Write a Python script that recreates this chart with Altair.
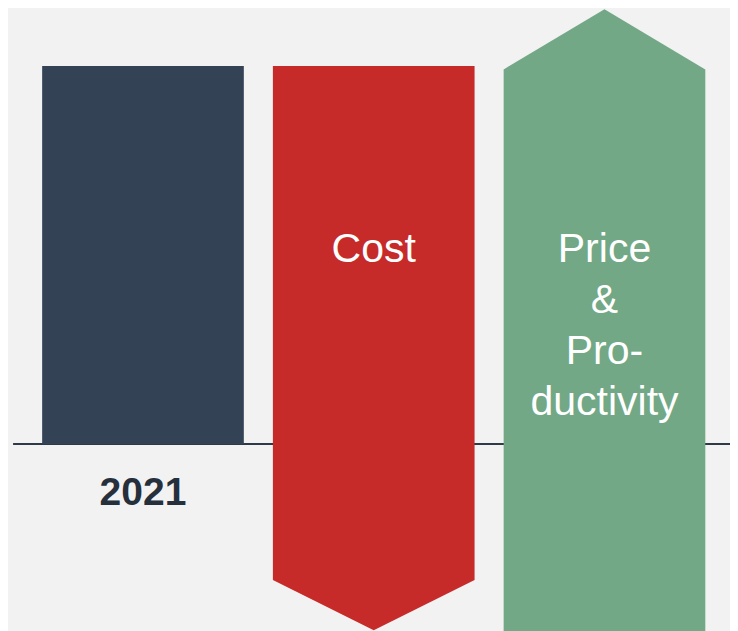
import altair as alt
import pandas as pd

# ---- data ----
categories = ["2021", "Cost", "Price & Productivity"]
inner_labels = ["", "Cost", "Price\n&\nPro-\nductivity"]
axis_labels = ["2021", "", ""]
bar_start = [0, 100, -60]        # where each bar/arrow begins
bar_edge = [100, -36, 99.1]      # end of the straight body
bar_tip = [100, -49.3, 115]      # tip of the arrow head
colors = ["#334355", "#c62a29", "#72a886"]

HALF = 0.437
X_DOMAIN = [-0.585, 2.544]
Y_DOMAIN = [-49.47, 115.34]

rows = []
for i, c in enumerate(categories):
    for dx, top in ((-HALF, bar_edge[i]), (0, bar_tip[i]), (HALF, bar_edge[i])):
        rows.append({"cat": c, "px": i + dx, "lo": bar_start[i], "hi": top})
poly = pd.DataFrame(rows)

labels = pd.DataFrame({
    "cat": categories,
    "px": list(range(len(categories))),
    "inner": inner_labels,
    "axis": axis_labels,
    "ly": [48.1] * 3,
    "ay": [-16.1] * 3,
})

xs = alt.Scale(domain=X_DOMAIN, nice=False, zero=False)
ys = alt.Scale(domain=Y_DOMAIN, nice=False, zero=False)

base_line = alt.Chart(pd.DataFrame({"px": [-0.563], "px2": [X_DOMAIN[1]], "lo": [0]})).mark_rule(
    color="#2e3a47", strokeWidth=2
).encode(
    x=alt.X("px:Q", scale=xs, axis=None),
    x2="px2:Q",
    y=alt.Y("lo:Q", scale=ys, axis=None),
)

shapes = alt.Chart(poly).mark_area(interpolate="linear", opacity=1).encode(
    x=alt.X("px:Q", scale=xs, axis=None),
    y=alt.Y("lo:Q", scale=ys, axis=None, stack=None),
    y2="hi:Q",
    color=alt.Color("cat:N", scale=alt.Scale(domain=categories, range=colors), legend=None),
)

inner_text = alt.Chart(labels).mark_text(
    font="Liberation Sans", fontSize=41, color="white", lineHeight=51,
    baseline="alphabetic", align="center", lineBreak="\n",
).encode(
    x=alt.X("px:Q", scale=xs, axis=None),
    y=alt.Y("ly:Q", scale=ys, axis=None),
    text="inner:N",
)

axis_text = alt.Chart(labels).mark_text(
    font="Liberation Sans", fontSize=39, fontWeight="bold", color="#25303c",
    baseline="alphabetic", align="center",
).encode(
    x=alt.X("px:Q", scale=xs, axis=None),
    y=alt.Y("ay:Q", scale=ys, axis=None),
    text="axis:N",
)

chart = alt.layer(base_line, shapes, inner_text, axis_text).properties(
    width=722, height=623, background="#f2f2f2", padding=0,
    autosize=alt.AutoSizeParams(type="none"),
).configure_view(stroke=None)

chart.save("out.html", embed_options={"renderer": "svg", "actions": False})
